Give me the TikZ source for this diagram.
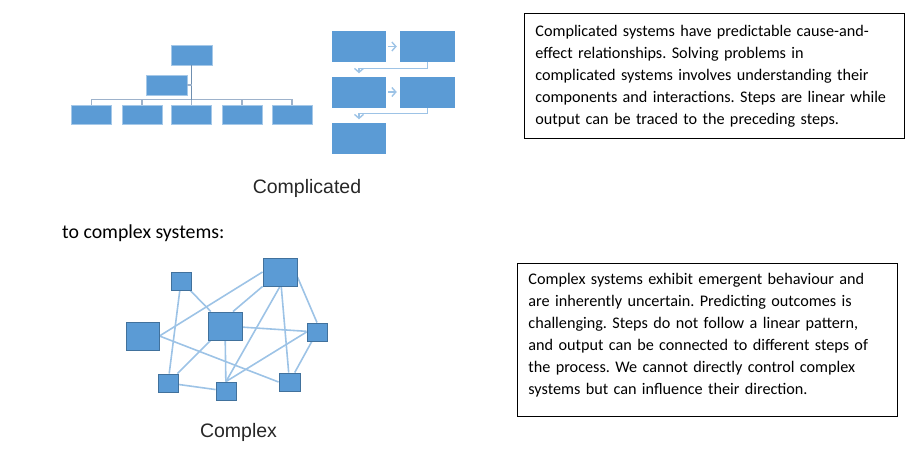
\documentclass[tikz,border=0pt]{standalone}
\usepackage{fontspec}
\setmainfont{Carlito}
\newfontfamily\labelfont{Liberation Sans}
\usetikzlibrary{positioning, arrows.meta, backgrounds}
\definecolor{boxblue}{HTML}{5B9BD5}
\definecolor{boxedge}{HTML}{41719C}
\definecolor{linkblue}{HTML}{9DC3E6}
\definecolor{orggray}{HTML}{9DB2CB}
\definecolor{trunkgray}{HTML}{6F8FB0}
\frenchspacing

\tikzset{
  orgbox/.style={fill=boxblue, draw=boxblue!55!white, line width=0.6pt,
                 minimum width=40pt, minimum height=19pt, inner sep=0pt},
  flowbox/.style={fill=boxblue, minimum width=54pt, minimum height=31pt, inner sep=0pt},
  netbox/.style={fill=boxblue, draw=boxedge, line width=0.9pt, inner sep=0pt},
  orgline/.style={draw=orggray, line width=1.4pt},
  flowline/.style={draw=linkblue, line width=1.4pt, -{Straight Barb[length=4pt, width=9pt]}},
  netline/.style={draw=linkblue, line width=1.6pt},
  notebox/.style={draw=black, line width=0.8pt, align=left, inner ysep=4pt,
                  font=\fontsize{16.2pt}{22pt}\selectfont},
  caption/.style={font=\labelfont\fontsize{19.5pt}{22pt}\selectfont, text=black!85}
}

\begin{document}
\begin{tikzpicture}[x=1pt, y=-1pt]
  \useasboundingbox (0,0) rectangle (911,450);

  % hierarchy chart
  \node[orgbox, minimum width=41pt, minimum height=20pt] (boss) at (191.5,55) {};
  \node[orgbox, minimum width=41pt, minimum height=20pt] (aide) at (166.5,85) {};
  \foreach \i/\x in {1/91.5, 2/142, 3/191.5, 4/242, 5/292}
    \node[orgbox] (o\i) at (\x,114.5) {};
  \draw[orgline] (o1.north) -- ++(0,-5) -| (o5.north);
  \foreach \i in {2,3,4}
    \draw[orgline] (o\i.north) -- ++(0,-5);
  \draw[orgline, draw=trunkgray, line width=1.8pt] (boss.south) -- ([yshift=5pt]o3.north);
  \draw[orgline] (aide.east) -- (aide.east -| boss.south);

  % process chart
  \node[flowbox] (f1) at (359,46.5) {};
  \node[flowbox, minimum width=55pt] (f2) at (427.5,46.5) {};
  \node[flowbox] (f3) at (359,92) {};
  \node[flowbox, minimum width=55pt] (f4) at (427.5,92) {};
  \node[flowbox] (f5) at (359,138) {};
  \draw[flowline] ([xshift=2pt]f1.east) -- ([xshift=-3pt]f2.west);
  \draw[flowline] ([xshift=2pt]f3.east) -- ([xshift=-3pt]f4.west);
  \draw[flowline, shorten >=3pt] (f2.south) -- ++(0,6) -| (f3.north);
  \draw[flowline, shorten >=3pt] (f4.south) -- ++(0,6) -| (f5.north);

  \node[caption] (complicated) at (307,188) {Complicated};

  \node[anchor=west, font=\fontsize{19.8pt}{22pt}\selectfont, inner sep=0pt] (lead) at (62,233) {to complex systems:};

  % network
  \node[netbox, minimum width=20pt, minimum height=18pt] (na) at (181,281) {};
  \node[netbox, minimum width=34pt, minimum height=28pt] (nb) at (280,272) {};
  \node[netbox, minimum width=33pt, minimum height=28pt] (nc) at (142.5,336) {};
  \node[netbox, minimum width=34pt, minimum height=28pt] (nd) at (225,326) {};
  \node[netbox, minimum width=20pt, minimum height=18pt] (ne) at (317,332) {};
  \node[netbox, minimum width=20pt, minimum height=18pt] (nf) at (168,383) {};
  \node[netbox, minimum width=20pt, minimum height=18pt] (ng) at (226,391) {};
  \node[netbox, minimum width=21pt, minimum height=18pt] (nh) at (289.5,382) {};
  \begin{scope}[on background layer]
    \draw[netline] (na) -- (nf);
    \draw[netline] (na) -- (nd);
    \draw[netline] (nc.east) -- (nb.west);
    \draw[netline] (nc.east) -- (nh.west);
    \draw[netline] ([xshift=8pt]nd.north) -- (nb.south west);
    \draw[netline] (nb.south) -- (ng.north);
    \draw[netline] (nb) -- (nh);
    \draw[netline] ([yshift=-5pt]nb.east) -- (ne.north);
    \draw[netline] (nd) -- (ne);
    \draw[netline] (nd) -- (ng);
    \draw[netline] (nd) -- (nf);
    \draw[netline] (nf) -- (ng);
    \draw[netline] (ne.west) -- (ng.north);
    \draw[netline] (ne) -- (nh);
  \end{scope}

  \node[caption] (complex) at (238.5,432) {Complex};

  % explanations
  \node[notebox, anchor=north west, text width=358pt, inner xsep=11pt,
        minimum height=125pt] (note1) at (524,13) {%
    Complicated systems have predictable cause-and-\\
    effect relationships. Solving problems in\\
    complicated systems involves understanding their\\
    components and interactions. Steps are linear while\\
    output can be traced to the preceding steps.};
  \node[notebox, anchor=north west, text width=358pt, inner xsep=11pt,
        minimum height=153pt] (note2) at (517,263) {%
    Complex systems exhibit emergent behaviour and\\
    are inherently uncertain. Predicting outcomes is\\
    challenging. Steps do not follow a linear pattern,\\
    and output can be connected to different steps of\\
    the process. We cannot directly control complex\\
    systems but can influence their direction.\rule[-12pt]{0pt}{1pt}};
\end{tikzpicture}
\end{document}
